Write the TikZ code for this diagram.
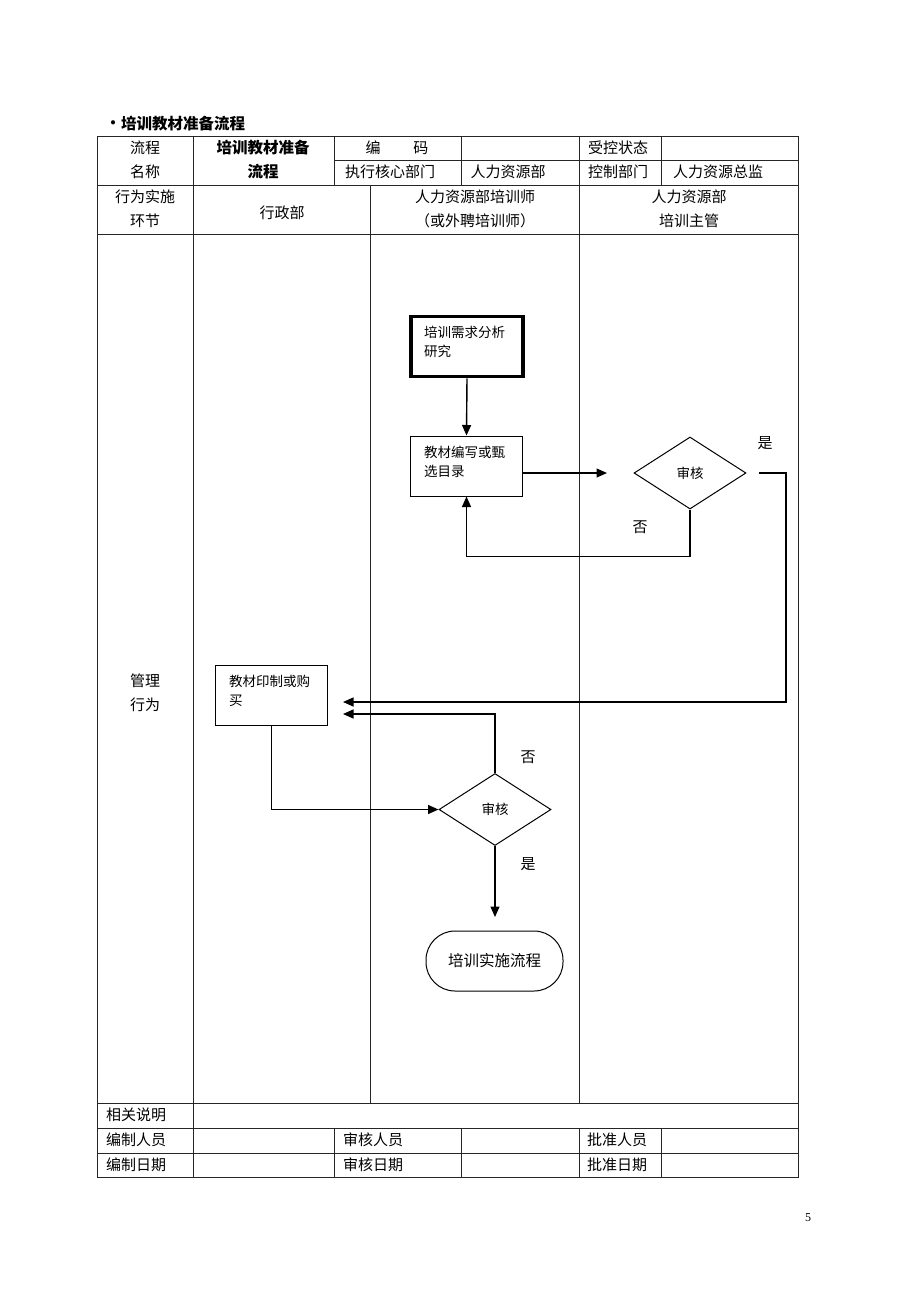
\documentclass[tikz,border=0pt]{standalone}
\usepackage{fontspec}
\setmainfont{Noto Sans CJK SC}
\newfontfamily\numfont{Liberation Serif}
\usetikzlibrary{arrows.meta,shapes.geometric}
\begin{document}
\begin{tikzpicture}[x=1pt,y=-1pt,
 grid/.style={draw=black!85,line width=0.9pt},
 tt/.style={font=\fontsize{15}{17}\selectfont,align=center,inner sep=0},
 tl/.style={font=\fontsize{15}{17}\selectfont,anchor=west,inner sep=0},
 flow/.style={line width=1.4pt,-{Triangle[length=10.5pt,width=9pt]}},
 box/.style={draw,line width=1pt,minimum width=112pt,minimum height=60pt,inner sep=0},
 boxtxt/.style={font=\fontsize{13.5}{19}\selectfont,align=left,anchor=west,inner sep=0},
 dia/.style={draw,diamond,line width=1pt,minimum width=112pt,minimum height=72pt,inner sep=0,font=\fontsize{13.5}{16}\selectfont},
 lbl/.style={font=\fontsize{15}{17}\selectfont,inner sep=0}
]
\useasboundingbox[fill=white] (0,0) rectangle (920,1302);

% title
\node[inner sep=0,font=\fontsize{15}{14}\selectfont\bfseries] (bul) at (113,125) {•};
\node[inner sep=0,anchor=west,font=\fontsize{15.5}{17}\selectfont\bfseries] (title) at (121,124) {培训教材准备流程};

% table lines
\draw[grid] (97,136) rectangle (798,1177);
\draw[grid] (334,160) -- (798,160);
\draw[grid] (97,185) -- (798,185);
\draw[grid] (97,234) -- (798,234);
\draw[grid] (97,1103) -- (798,1103);
\draw[grid] (97,1128) -- (798,1128);
\draw[grid] (97,1153) -- (798,1153);
\draw[grid] (193,136) -- (193,1177);
\foreach \x in {334,461,661}{
  \draw[grid] (\x,136) -- (\x,185);
  \draw[grid] (\x,1128) -- (\x,1177);
}
\draw[grid] (579,136) -- (579,1103);
\draw[grid] (579,1128) -- (579,1177);
\draw[grid] (370,185) -- (370,1103);

% header texts
\node[tt] (h1) at (145,160) {流程\\[7pt]名称};
\node[tt,font=\fontsize{15.5}{17}\selectfont\bfseries] (h2) at (263,160) {培训教材准备\\[7pt]流程};
\node[tt] (h3) at (397,148) {编\hspace{2.2em}码};
\node[tt] (h4) at (390,172) {执行核心部门};
\node[tt] (h5) at (508,172) {人力资源部};
\node[tt] (h6) at (618,148) {受控状态};
\node[tt] (h7) at (618,172) {控制部门};
\node[tt] (h8) at (718,172) {人力资源总监};
\node[tt] (h9) at (145,209) {行为实施\\[7pt]环节};
\node[tt] (h10) at (282,213) {行政部};
\node[tt] (h11) at (475,209) {人力资源部培训师\\[7pt]（或外聘培训师）};
\node[tt] (h12) at (689,209) {人力资源部\\[7pt]培训主管};
\node[tt] (h13) at (145,693) {管理\\[7pt]行为};

% footer texts
\node[tl] (f1) at (106,1115) {相关说明};
\node[tl] (f2) at (106,1140) {编制人员};
\node[tl] (f3) at (106,1165) {编制日期};
\node[tl] (f4) at (343,1140) {审核人员};
\node[tl] (f5) at (343,1165) {审核日期};
\node[tl] (f6) at (587,1140) {批准人员};
\node[tl] (f7) at (587,1165) {批准日期};

% flow nodes
\node[box,line width=3.5pt] (b1) at (467,346.5) {};
\node[boxtxt] (b1t) at (424,342) {培训需求分析\\研究};
\node[box] (b2) at (466.5,466) {};
\node[boxtxt] (b2t) at (424,462) {教材编写或甄\\选目录};
\node[dia] (d1) at (690,473) {审核};
\node[box] (b3) at (271.5,695) {};
\node[boxtxt] (b3t) at (229,691) {教材印制或购\\买};
\node[dia] (d2) at (495,809.5) {审核};
\node[draw,line width=1pt,minimum width=137pt,minimum height=60pt,rounded corners=29pt,inner sep=0,font=\fontsize{15.5}{17}\selectfont] (t1) at (494.5,961) {培训实施流程};

% free ends
\coordinate (a1) at (607,473);
\coordinate (ys) at (759,473);
\coordinate (yc) at (786,473);
\coordinate (ye) at (343,702);
\coordinate (ne) at (343,714);
\coordinate (te) at (495,917);

% connectors
\draw[flow] (b1.south) -- (b2.north);
\draw[flow] (b2.east |- a1) -- (a1);
\draw[flow] (ys) -- (yc) |- (ye);
\draw[flow] (d1.south) -- ++(0,47) -| (b2.south);
\draw[flow] (b3.south) |- (d2.west);
\draw[flow] (d2.north) |- (ne);
\draw[flow] (d2.south) -- (te);

% labels
\node[lbl] (l1) at (765,443) {是};
\node[lbl] (l2) at (640,527) {否};
\node[lbl] (l3) at (528,757) {否};
\node[lbl] (l4) at (528,864) {是};

% page number
\node[inner sep=0,font=\numfont\fontsize{12}{14}\selectfont] (pg) at (808,1218) {5};
\end{tikzpicture}
\end{document}
